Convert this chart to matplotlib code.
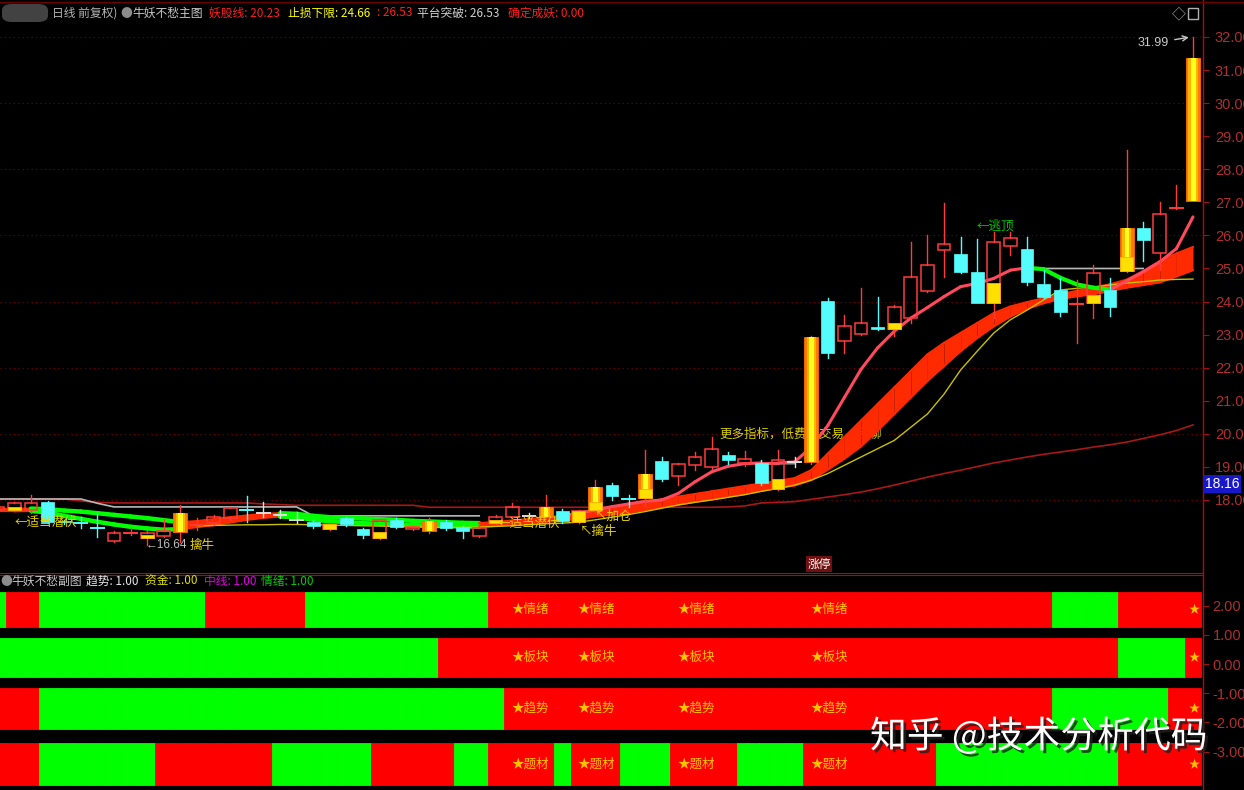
import numpy as np
import matplotlib
matplotlib.use('Agg')
import matplotlib.pyplot as plt
from matplotlib.patches import Rectangle, FancyBboxPatch
from matplotlib.lines import Line2D
import matplotlib.patheffects as pe

plt.rcParams['font.family'] = ['Noto Sans CJK SC', 'DejaVu Sans']

nan = np.nan

# ---- candles ----
opens = [17.70, 17.70, 17.70, 17.94, 17.36, 17.30, 17.15, 16.76, 17.00, 16.85,
         16.91, 17.03, 17.24, 17.30, 17.45, 17.70, 17.60, 17.55, 17.40, 17.33,
         17.12, 17.45, 17.12, 16.85, 17.39, 17.12, 17.06, 17.33, 17.18, 16.91,
         17.30, 17.49, 17.52, 17.49, 17.67, 17.33, 17.70, 18.45, 18.03, 18.06,
         19.18, 18.73, 19.06, 19.00, 19.36, 19.12, 19.12, 18.33, 19.15, 19.15,
         24.02, 22.81, 23.02, 23.23, 23.17, 23.50, 24.32, 25.56, 25.44, 24.89,
         23.96, 25.68, 25.59, 24.53, 24.35, 23.93, 23.96, 24.35, 24.92, 26.22,
         25.47, 26.83, 27.05]
closes = [17.80, 17.90, 17.91, 17.33, 17.32, 17.30, 17.15, 17.00, 17.00, 17.00,
          17.06, 17.60, 17.24, 17.49, 17.76, 17.70, 17.60, 17.55, 17.40, 17.21,
          17.27, 17.27, 16.94, 17.39, 17.18, 17.18, 17.36, 17.15, 17.06, 17.15,
          17.49, 17.79, 17.52, 17.79, 17.36, 17.67, 18.39, 18.12, 18.03, 18.79,
          18.63, 19.09, 19.30, 19.54, 19.21, 19.24, 18.51, 19.21, 19.15, 22.93,
          22.44, 23.26, 23.35, 23.17, 23.83, 24.74, 25.11, 25.74, 24.89, 23.96,
          25.80, 25.92, 24.59, 24.14, 23.68, 23.93, 24.86, 23.84, 26.22, 25.86,
          26.65, 26.83, 31.35]
highs = [17.88, 17.95, 18.15, 17.97, 17.40, 17.49, 17.60, 17.06, 17.15, 17.06,
         17.43, 17.85, 17.45, 17.55, 17.80, 18.12, 17.94, 17.70, 17.63, 17.40,
         17.30, 17.50, 17.15, 17.42, 17.45, 17.22, 17.45, 17.38, 17.20, 17.30,
         17.55, 17.90, 17.62, 18.15, 17.72, 17.70, 18.60, 18.50, 18.15, 19.51,
         19.30, 19.12, 19.45, 19.90, 19.45, 19.48, 19.20, 19.50, 19.30, 22.95,
         24.10, 23.60, 24.41, 24.14, 23.90, 25.80, 26.01, 26.98, 25.95, 25.90,
         26.10, 26.10, 25.95, 24.95, 24.70, 24.65, 25.10, 24.70, 28.58, 26.40,
         27.00, 27.52, 31.99]
lows = [17.66, 17.66, 17.62, 17.30, 17.27, 17.15, 16.88, 16.73, 16.94, 16.64,
        16.88, 16.73, 17.10, 17.25, 17.40, 17.33, 17.49, 17.45, 17.30, 17.15,
        17.10, 17.20, 16.85, 16.82, 17.15, 17.08, 17.00, 17.10, 16.85, 16.88,
        17.26, 17.45, 17.45, 17.45, 17.30, 17.30, 17.62, 18.00, 17.80, 17.79,
        18.58, 18.45, 18.90, 18.95, 19.10, 19.03, 18.45, 18.30, 19.00, 19.10,
        22.30, 22.44, 23.00, 23.15, 22.95, 23.35, 24.30, 24.74, 24.85, 23.95,
        23.50, 25.40, 24.50, 24.12, 23.55, 22.75, 23.50, 23.55, 24.90, 25.22,
        24.95, 26.80, 27.05]
# u = up, d = down, b = strong (orange) bar, xr/xc/xw = doji red/cyan/white
kinds = ['u', 'u', 'u', 'd', 'd', 'xc', 'xc', 'u', 'xr', 'u',
         'u', 'b', 'xr', 'u', 'u', 'xc', 'xw', 'xw', 'xw', 'd',
         'u', 'd', 'd', 'u', 'd', 'u', 'b', 'd', 'd', 'u',
         'u', 'u', 'xw', 'b', 'd', 'u', 'b', 'd', 'xc', 'b',
         'd', 'u', 'u', 'u', 'd', 'u', 'd', 'u', 'xw', 'b',
         'd', 'u', 'u', 'd', 'u', 'u', 'u', 'u', 'd', 'd',
         'u', 'u', 'd', 'd', 'd', 'xr', 'u', 'd', 'b', 'd',
         'u', 'xr', 'b']
# yellow signal boxes: candle index -> (low, high)
yellow_boxes = {1: (17.70, 17.79), 9: (16.85, 16.94), 20: (17.12, 17.27),
                23: (16.85, 17.03), 30: (17.30, 17.38), 35: (17.33, 17.67),
                36: (17.70, 17.95), 39: (18.06, 18.33), 47: (18.33, 18.63),
                54: (23.17, 23.35), 60: (23.96, 24.56), 66: (23.96, 24.20),
                68: (24.92, 25.35)}

# ---- indicator lines ----
band_top = [17.72, 17.73, 17.74, 17.72, 17.68, 17.65, 17.60, 17.55, 17.50, 17.45,
            17.39, 17.33, 17.36, 17.42, 17.48, 17.53, 17.58, 17.60, 17.58, 17.52,
            17.48, 17.46, 17.44, 17.42, 17.40, 17.37, 17.35, 17.33, 17.31, 17.30,
            17.33, 17.38, 17.42, 17.47, 17.52, 17.58, 17.66, 17.74, 17.82, 17.92,
            18.02, 18.10, 18.18, 18.26, 18.34, 18.42, 18.50, 18.58, 18.66, 18.90,
            19.40, 19.90, 20.40, 20.90, 21.40, 21.90, 22.40, 22.75, 23.05, 23.35,
            23.65, 23.85, 23.98, 24.10, 24.22, 24.32, 24.42, 24.52, 24.66, 24.92,
            25.22, 25.45, 25.65]
band_bot = [17.66, 17.66, 17.67, 17.62, 17.52, 17.43, 17.34, 17.26, 17.19, 17.14,
            17.10, 17.12, 17.18, 17.24, 17.32, 17.40, 17.46, 17.50, 17.48, 17.40,
            17.36, 17.33, 17.30, 17.28, 17.26, 17.24, 17.22, 17.21, 17.20, 17.19,
            17.22, 17.26, 17.30, 17.34, 17.38, 17.43, 17.50, 17.56, 17.62, 17.70,
            17.78, 17.86, 17.94, 18.02, 18.10, 18.18, 18.28, 18.36, 18.44, 18.60,
            18.92, 19.25, 19.62, 20.10, 20.60, 21.10, 21.60, 22.05, 22.50, 22.90,
            23.25, 23.55, 23.78, 23.95, 24.08, 24.16, 24.22, 24.32, 24.42, 24.50,
            24.58, 24.76, 24.95]
ma_fast = [nan] * 34 + [
    17.52, 17.60, 17.70, 17.80, 17.88, 17.96, 18.00, 18.20, 18.55, 18.85,
    19.02, 19.10, 19.12, 19.12, 19.15, 19.60, 20.25, 21.10, 21.95, 22.60,
    23.10, 23.50, 23.82, 24.15, 24.45, 24.55, 24.70, 24.95, 25.02, 24.98,
    24.72, 24.52, 24.42, 24.36, 24.62, 24.90, 25.20, 25.60, 26.56]
ma_mid = [nan] * 12 + [
    17.22, 17.23, 17.24, 17.25, 17.25, 17.26, 17.26, 17.25, 17.24, 17.23,
    17.22, 17.21, 17.20, 17.19, 17.18, 17.17, 17.17, 17.18, 17.20, 17.22,
    17.25, 17.28, 17.30, 17.33, 17.40, 17.48, 17.56, 17.65, 17.75, 17.85,
    17.93, 18.00, 18.08, 18.16, 18.26, 18.35, 18.45, 18.60, 18.80, 19.05,
    19.30, 19.55, 19.80, 20.20, 20.60, 21.20, 21.93, 22.50, 23.05, 23.45,
    23.74, 24.05, 24.35, 24.40, 24.44, 24.50, 24.56, 24.60, 24.65, 24.67,
    24.68]
ma_long = [18.03, 18.03, 18.03, 18.03, 18.03, 17.97, 17.93, 17.91, 17.91, 17.91,
           17.91, 17.91, 17.91, 17.91, 17.91, 17.91, 17.88, 17.86, 17.84, 17.84,
           17.84, 17.84, 17.84, 17.84, 17.84, 17.84, 17.78, 17.78, 17.78, 17.78,
           17.78, 17.78, 17.78, 17.78, 17.78, 17.78, 17.78, 17.78, 17.78, 17.78,
           17.78, 17.78, 17.78, 17.78, 17.79, 17.82, 17.91, 17.93, 17.95, 18.02,
           18.09, 18.16, 18.24, 18.34, 18.45, 18.57, 18.69, 18.80, 18.90, 19.01,
           19.12, 19.21, 19.30, 19.38, 19.45, 19.52, 19.60, 19.67, 19.75, 19.86,
           19.97, 20.10, 20.27]
platform = ([18.03] * 6 + [17.90] + [17.79] * 12 + [17.52] * 11 + [nan] * 17
            + [19.10, 19.10] + [nan] * 13 + [25.00] * 8 + [nan] * 3)

# ---- sub chart states (1 = red, 0 = green), run lengths ----
mood_runs = [(0, 1), (1, 2), (0, 10), (1, 6), (0, 11), (1, 34), (0, 4), (1, 5)]
sector_runs = [(0, 27), (1, 41), (0, 4), (1, 1)]
trend_runs = [(1, 3), (0, 28), (1, 33), (0, 7), (1, 2)]
topic_runs = [(1, 3), (0, 7), (1, 7), (0, 6), (1, 5), (0, 2), (1, 4), (0, 1),
              (1, 3), (0, 3), (1, 4), (0, 4), (1, 8), (0, 11), (1, 5)]
star_idx = [31, 35, 41, 49]

n = len(opens)
band_top = np.array(band_top, dtype=float)
band_bot = np.array(band_bot, dtype=float)
ma_fast = np.array(ma_fast, dtype=float)
ma_mid = np.array(ma_mid, dtype=float)
ma_long = np.array(ma_long, dtype=float)
platform = np.array(platform, dtype=float)

RED = '#FF3A3A'
CYAN = '#54FCFC'
GREEN = '#00FF00'
BAND = '#FF2A00'
PINK = '#FF4A5E'
AXRED = '#A01010'
LABRED = '#B02E2E'

W, H = 1244, 790
fig = plt.figure(figsize=(W / 100, H / 100), dpi=100, facecolor='black')


def fx(px):
    return px / W


def fy(py):
    return 1 - py / H


# pixel -> data helpers (layout only)
STEP, LASTX = 16.6, 1193


def xi(px):
    return (n - 1) - (LASTX - px) / STEP


def pr(py):
    return 32 - (py - 37) / 33.07


ax = fig.add_axes([0, fy(573), fx(1203), fy(24) - fy(573)])
ax.set_facecolor('black')
ax.set_xlim(xi(0), xi(1203))
ax.set_ylim(pr(573), pr(24))
for s in ['top', 'left']:
    ax.spines[s].set_visible(False)
ax.spines['right'].set_color(AXRED)
ax.spines['bottom'].set_color(AXRED)
ax.set_xticks([])
ax.yaxis.tick_right()
ax.set_yticks(range(18, 33))
ax.set_yticklabels(['%.2f' % v for v in range(18, 33)], family='Liberation Sans')
ax.tick_params(axis='y', colors=AXRED, labelcolor=LABRED, length=4, width=0.8,
               pad=4.5, labelsize=10.5)
for p in range(18, 33, 2):
    ax.axhline(p, color='#7A0000', lw=0.8, ls=(0, (1, 3)), zorder=0)

# band (two moving averages), red filled when rising, two green lines when falling
for i in range(1, n):
    xs = [i - 1, i]
    t = band_top[i - 1:i + 1]
    b = band_bot[i - 1:i + 1]
    if band_top[i] >= band_top[i - 1]:
        ax.fill_between(xs, b, t, color=BAND, lw=0, zorder=3)
        ax.plot(xs, t, color=BAND, lw=1.6, zorder=3, solid_capstyle='round')
        ax.plot(xs, b, color=BAND, lw=1.6, zorder=3, solid_capstyle='round')
    else:
        ax.plot(xs, t, color=GREEN, lw=3.2, zorder=3, solid_capstyle='round')
        ax.plot(xs, b, color=GREEN, lw=3.2, zorder=3, solid_capstyle='round')

idx = np.arange(n)
ax.plot(idx, ma_long, color='#A81818', lw=1.2, zorder=2)
ax.plot(idx, platform, color='#B8B8B8', lw=1.2, zorder=2)
ax.plot(idx, ma_mid, color='#C8C000', lw=1.0, zorder=4)
for i in range(1, n):
    if np.isnan(ma_fast[i - 1]) or np.isnan(ma_fast[i]):
        continue
    up = ma_fast[i] >= ma_fast[i - 1]
    ax.plot([i - 1, i], ma_fast[i - 1:i + 1], color=PINK if up else GREEN,
            lw=2.2 if up else 3.0, zorder=4, solid_capstyle='round')

# candles
bw = 0.76
for i in range(n):
    o, c, h, l, k = opens[i], closes[i], highs[i], lows[i], kinds[i]
    top, bot = max(o, c), min(o, c)
    if k == 'd' or k == 'xc':
        col = CYAN
    elif k == 'xw':
        col = '#E0E0E0'
    else:
        col = RED
    if k.startswith('x'):
        ax.plot([i, i], [l, h], color=col, lw=1, zorder=5)
        ax.plot([i - bw / 2, i + bw / 2], [o, o], color=col, lw=1.4, zorder=5)
        continue
    ax.plot([i, i], [top, h], color=col, lw=1, zorder=5)
    ax.plot([i, i], [l, bot], color=col, lw=1, zorder=5)
    hgt = max(top - bot, 0.03)
    if k == 'u':
        ax.add_patch(Rectangle((i - bw / 2, bot), bw, hgt, facecolor='none',
                               edgecolor=RED, lw=1.1, zorder=5))
    elif k == 'd':
        ax.add_patch(Rectangle((i - bw / 2, bot), bw, hgt, facecolor=CYAN,
                               edgecolor=CYAN, lw=0.5, zorder=5))
    else:
        bb = bw * 1.1
        ax.add_patch(Rectangle((i - bb / 2, bot), bb, hgt, facecolor='#FF7A00',
                               edgecolor='#FF6A00', lw=0.6, zorder=5))
        ax.add_patch(Rectangle((i - bb * 0.33, bot), bb * 0.66, hgt,
                               facecolor='#FFB400', lw=0, zorder=5))
        ax.add_patch(Rectangle((i - bb * 0.15, bot), bb * 0.35, hgt,
                               facecolor='#FFFF20', lw=0, zorder=5))
for i, (lo, hi) in yellow_boxes.items():
    ax.add_patch(Rectangle((i - bw / 2, lo), bw, hi - lo, facecolor='#FFE000',
                           edgecolor='#FFB000', lw=0.6, zorder=6))

# annotations on the main chart
YEL = '#E8D200'
ax.text(xi(15), pr(522), '←适当潜伏', color=YEL, fontsize=9, va='center', zorder=7)
ax.text(xi(146), pr(545), '←16.64', color='#C0C0C0', fontsize=8.5, va='center',
        family='Liberation Sans', zorder=7)
ax.text(xi(190), pr(545), '擒牛', color=YEL, fontsize=9, va='center', zorder=7)
ax.text(xi(498), pr(523), '←适当潜伏', color=YEL, fontsize=9, va='center', zorder=7)
ax.text(xi(595), pr(516), '↖加仓', color=YEL, fontsize=9, va='center', zorder=7)
ax.text(xi(580), pr(531), '↖擒牛', color=YEL, fontsize=9, va='center', zorder=7)
ax.text(xi(719), pr(434), '更多指标，低费率交易，私聊', color='#D8D000', fontsize=9,
        va='center', zorder=2.5)
ax.text(xi(977), pr(226), '←逃顶', color='#00C800', fontsize=9, va='center', zorder=7)
ax.text(xi(819), pr(564), '涨停', color='white', fontsize=8.5, ha='center', va='center',
        zorder=7, bbox=dict(facecolor='#701010', edgecolor='none', pad=1))
ax.annotate('31.99', xy=(n - 1 - 0.25, highs[-1]), xytext=(xi(1138), pr(43)),
            color='#C8C8C8', fontsize=9, va='center', family='Liberation Sans',
            arrowprops=dict(arrowstyle='->', color='#C8C8C8', lw=1, shrinkA=2, shrinkB=0),
            zorder=7)

# ---- sub chart ----
sub = fig.add_axes([0, 0, fx(1203), fy(575)])
sub.set_facecolor('black')
sub.set_xlim(xi(0), xi(1203))
sub.set_ylim((664 - 790) / 29.2, (664 - 575) / 29.2)
for s in ['bottom', 'left']:
    sub.spines[s].set_visible(False)
sub.spines['right'].set_color(AXRED)
sub.spines['top'].set_color(AXRED)
sub.set_xticks([])
sub.yaxis.tick_right()
sub.set_yticks([2, 1, 0, -1, -2, -3])
sub.set_yticklabels(['%.2f' % v for v in [2, 1, 0, -1, -2, -3]], family='Liberation Sans')
sub.tick_params(axis='y', colors=AXRED, labelcolor=LABRED, length=4, width=0.8,
                pad=3, labelsize=10.5)

sub.text(xi(719), -2.95, '更多指标，低费率交易，私聊', color='#D8D000', fontsize=9,
         va='center', zorder=1)

rows = [(mood_runs, 1.27, 1.20, '★情绪'), (sector_runs, -0.45, 1.34, '★板块'),
        (trend_runs, -2.23, 1.41, '★趋势'), (topic_runs, -4.14, 1.43, '★题材')]
for runs, bottom, height, label in rows:
    states = []
    for val, cnt in runs:
        states += [val] * cnt
    cols = ['#FF0000' if s else '#00FF00' for s in states]
    sub.bar(idx, [height] * n, bottom=bottom, width=1.0, color=cols, edgecolor=cols,
            lw=0.6, zorder=2)
    yc = bottom + height / 2
    for si in star_idx:
        sub.text(si - 0.05, yc, label, color='#FFC400', fontsize=9, va='center',
                 ha='left', zorder=3)
    sub.text(n - 1 - 0.25, yc, '★', color='#FFC400', fontsize=8, va='center',
             ha='left', zorder=3)

# ---- header texts ----
fig.patches.append(FancyBboxPatch((fx(2), fy(22)), fx(46), fy(4) - fy(22),
                                  boxstyle='round,pad=0,rounding_size=0.008',
                                  transform=fig.transFigure, facecolor='#4A4A4A',
                                  edgecolor='none', alpha=0.9))
head = [(52, '日线 前复权)', '#B4B4B4'), (120, '●', '#8C8C8C'),
        (132, '牛妖不愁主图', '#C8C8C8'), (209, '妖股线: 20.23', '#FF2020'),
        (288, '止损下限: 24.66', '#FFFF00'), (377, ': 26.53', '#FF2020'),
        (417, '平台突破: 26.53', '#D0D0D0'), (508, '确定成妖: 0.00', '#FF2020')]
for px, s, col in head:
    fig.text(fx(px), fy(13), s, color=col, fontsize=8.5, va='center')
subhead = [(0, '●', '#8C8C8C'), (11, '牛妖不愁副图', '#C8C8C8'),
           (86, '趋势: 1.00', '#E8E8E8'), (145, '资金: 1.00', '#E0E000'),
           (204, '中线: 1.00', '#E000E0'), (261, '情绪: 1.00', '#00D000')]
for px, s, col in subhead:
    fig.text(fx(px), fy(581), s, color=col, fontsize=8.5, va='center')

fig.text(fx(1172), fy(14), '◇', color='#B0B0B0', fontsize=10, va='center')
fig.patches.append(Rectangle((fx(1188), fy(19)), fx(10), fy(8) - fy(19),
                             transform=fig.transFigure, facecolor='none',
                             edgecolor='#B0B0B0', lw=1))
fig.lines.append(Line2D([fx(1203), fx(1203)], [0, 1], transform=fig.transFigure,
                        color=AXRED, lw=1))
fig.lines.append(Line2D([0, 1], [fy(1.5), fy(1.5)], transform=fig.transFigure,
                        color='#6A0000', lw=1))

fig.text(fx(1205), fy(484), '18.16', color='white', fontsize=10, va='center',
         family='Liberation Sans',
         bbox=dict(facecolor='#1818C8', edgecolor='none', pad=1.2))

fig.text(fx(870), fy(737), '知乎 @技术分析代码', color='white', fontsize=26.5,
         va='center', ha='left',
         path_effects=[pe.withSimplePatchShadow(offset=(2, -2), shadow_rgbFace='#202020',
                                                alpha=0.8)])

fig.savefig('out.png', dpi=100, facecolor='black')
